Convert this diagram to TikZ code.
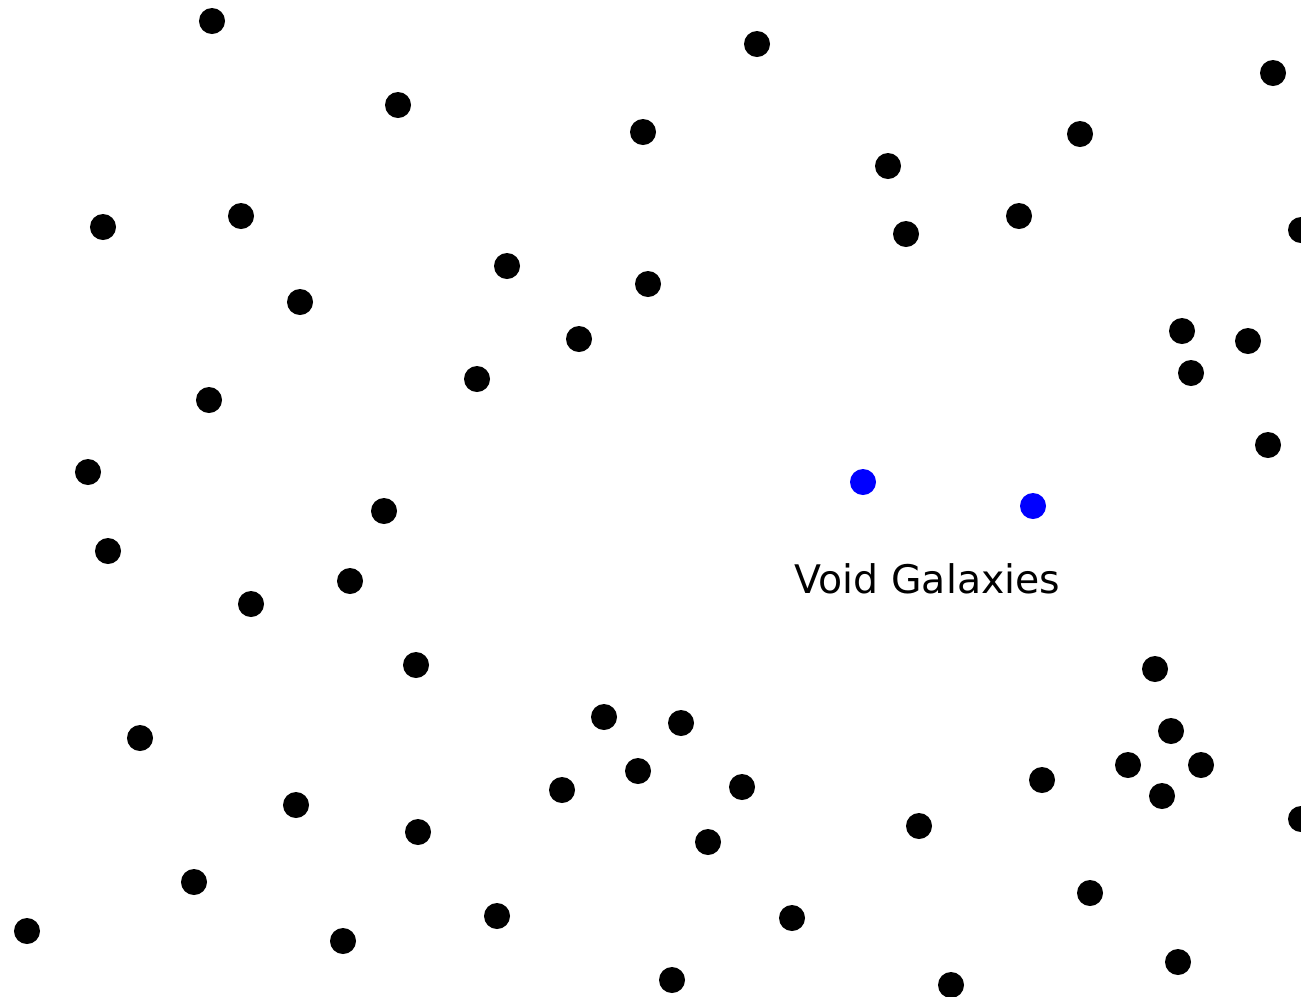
\documentclass[tikz,border=0pt]{standalone}
\usepackage{fontspec}
\setsansfont{DejaVu Sans}
\usepackage{xcolor}
\usepackage{tikz}

\begin{document}
\begin{tikzpicture}[
    x=0.01cm, y=-0.01cm,
    gal/.style={circle, fill=black, inner sep=0pt, minimum size=0.26cm},
    voidgal/.style={gal, fill=blue}
]
\useasboundingbox (0,0) rectangle (1301,996);
% field galaxies
\node[gal] (g01) at (212,21) {};
\node[gal] (g02) at (757,44) {};
\node[gal] (g03) at (1273,73) {};
\node[gal] (g04) at (398,105) {};
\node[gal] (g05) at (643,132) {};
\node[gal] (g06) at (1080,134) {};
\node[gal] (g07) at (888,166) {};
\node[gal] (g08) at (103,227) {};
\node[gal] (g09) at (241,216) {};
\node[gal] (g10) at (906,234) {};
\node[gal] (g11) at (1019,216) {};
\node[gal] (g12) at (1301,230) {};
\node[gal] (g13) at (507,266) {};
\node[gal] (g14) at (648,284) {};
\node[gal] (g15) at (300,302) {};
\node[gal] (g16) at (579,339) {};
\node[gal] (g17) at (1182,331) {};
\node[gal] (g18) at (1248,341) {};
\node[gal] (g19) at (1191,373) {};
\node[gal] (g20) at (477,379) {};
\node[gal] (g21) at (209,400) {};
\node[gal] (g22) at (1268,445) {};
\node[gal] (g23) at (88,472) {};
\node[gal] (g24) at (384,511) {};
\node[gal] (g25) at (108,551) {};
\node[gal] (g26) at (350,581) {};
\node[gal] (g27) at (251,604) {};
\node[gal] (g28) at (416,665) {};
\node[gal] (g29) at (1155,669) {};
\node[gal] (g30) at (604,717) {};
\node[gal] (g31) at (681,723) {};
\node[gal] (g32) at (1171,731) {};
\node[gal] (g33) at (140,738) {};
\node[gal] (g34) at (638,771) {};
\node[gal] (g35) at (1128,765) {};
\node[gal] (g36) at (1201,765) {};
\node[gal] (g37) at (562,790) {};
\node[gal] (g38) at (742,787) {};
\node[gal] (g39) at (1042,780) {};
\node[gal] (g40) at (1162,796) {};
\node[gal] (g41) at (296,805) {};
\node[gal] (g42) at (418,832) {};
\node[gal] (g43) at (708,842) {};
\node[gal] (g44) at (919,826) {};
\node[gal] (g45) at (1301,819) {};
\node[gal] (g46) at (194,882) {};
\node[gal] (g47) at (1090,893) {};
\node[gal] (g48) at (27,931) {};
\node[gal] (g49) at (497,916) {};
\node[gal] (g50) at (792,918) {};
\node[gal] (g51) at (343,941) {};
\node[gal] (g52) at (1178,962) {};
\node[gal] (g53) at (672,980) {};
\node[gal] (g54) at (951,985) {};
% void galaxies
\node[voidgal] (v1) at (863,482) {};
\node[voidgal] (v2) at (1033,506) {};
\node[font=\sffamily\fontsize{11.2}{13}\selectfont, anchor=base, inner sep=0pt] (lbl) at (927.5,593) {Void Galaxies};
\end{tikzpicture}
\end{document}
